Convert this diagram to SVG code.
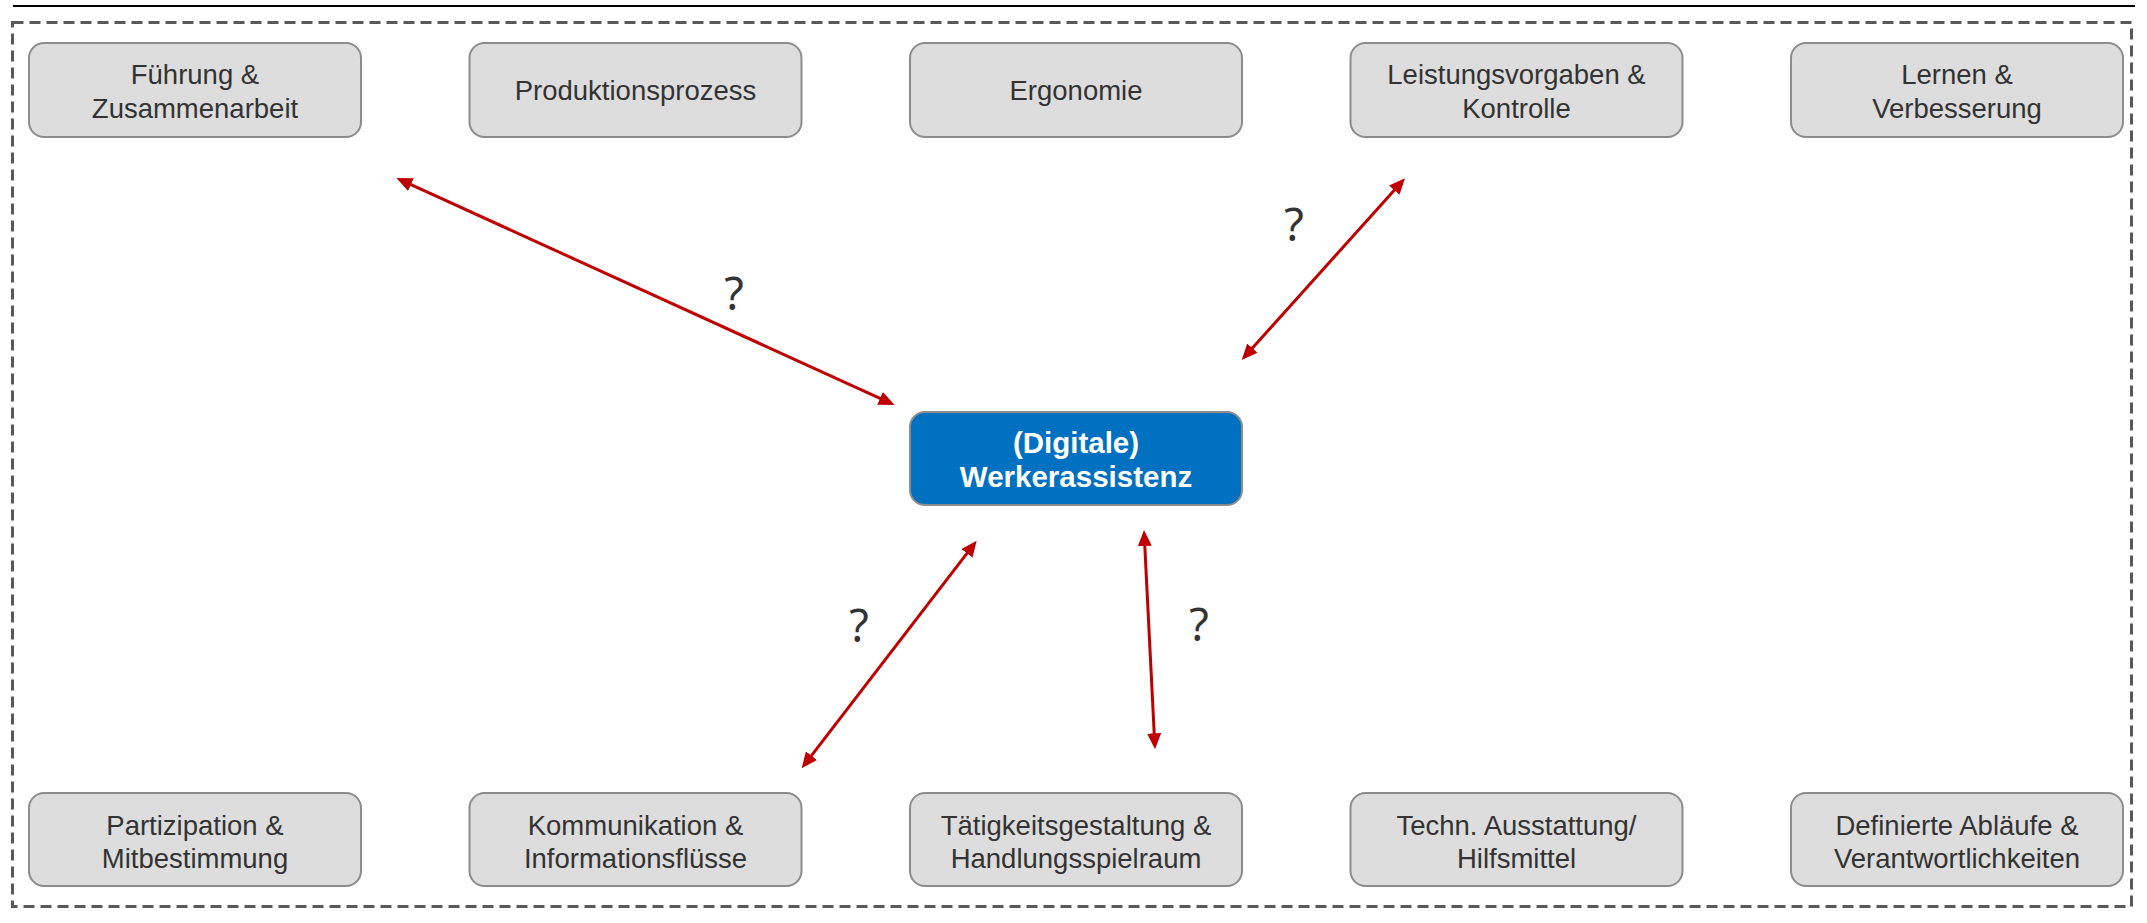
<svg xmlns="http://www.w3.org/2000/svg" width="2147" height="923" viewBox="0 0 2147 923">
  <style>
    .box { fill: #dddddd; stroke: #8c8c8c; stroke-width: 2; }
    .core { fill: #0070c0; stroke: #8c8c8c; stroke-width: 2; }
    .lbl { font-family: "Liberation Sans", Arial, sans-serif; font-size: 27.5px; fill: #333333; text-anchor: middle; }
    .corelbl { font-family: "Liberation Sans", Arial, sans-serif; font-size: 29.5px; font-weight: bold; fill: #ffffff; text-anchor: middle; }
    .q { font-family: "Noto Sans", "Open Sans", sans-serif; font-size: 45px; fill: #333333; text-anchor: middle; }
    .link { stroke: #c00000; stroke-width: 3; fill: none; marker-start: url(#head); marker-end: url(#head); }
  </style>
  <defs>
    <marker id="head" markerUnits="userSpaceOnUse" markerWidth="16" markerHeight="14" refX="6" refY="7" orient="auto-start-reverse">
      <path d="M0,0 L16,7 L0,14 z" fill="#c00000"/>
    </marker>
  </defs>

  <rect width="2147" height="923" fill="#ffffff"/>

  <!-- header rule -->
  <line x1="13" y1="6" x2="2135" y2="6" stroke="#000000" stroke-width="2"/>
  <!-- dashed frame -->
  <rect x="12.5" y="22.5" width="2119" height="884" fill="none" stroke="#595959" stroke-width="3" stroke-dasharray="11 6"/>

  <!-- top row -->
  <g id="fuehrung">
    <rect class="box" x="29" y="43" width="332" height="94" rx="15"/>
    <text class="lbl" x="195" y="84">Führung &amp;</text>
    <text class="lbl" x="195" y="118">Zusammenarbeit</text>
  </g>
  <g id="produktion">
    <rect class="box" x="469.5" y="43" width="332" height="94" rx="15"/>
    <text class="lbl" x="635.5" y="100">Produktionsprozess</text>
  </g>
  <g id="ergonomie">
    <rect class="box" x="910" y="43" width="332" height="94" rx="15"/>
    <text class="lbl" x="1076" y="100">Ergonomie</text>
  </g>
  <g id="leistung">
    <rect class="box" x="1350.5" y="43" width="332" height="94" rx="15"/>
    <text class="lbl" x="1516.5" y="84">Leistungsvorgaben &amp;</text>
    <text class="lbl" x="1516.5" y="118">Kontrolle</text>
  </g>
  <g id="lernen">
    <rect class="box" x="1791" y="43" width="332" height="94" rx="15"/>
    <text class="lbl" x="1957" y="84">Lernen &amp;</text>
    <text class="lbl" x="1957" y="118">Verbesserung</text>
  </g>

  <!-- centre -->
  <g id="werkerassistenz">
    <rect class="core" x="910" y="412" width="332" height="93" rx="15"/>
    <text class="corelbl" x="1076" y="453">(Digitale)</text>
    <text class="corelbl" x="1076" y="487">Werkerassistenz</text>
  </g>

  <!-- bottom row -->
  <g id="partizipation">
    <rect class="box" x="29" y="793" width="332" height="93" rx="15"/>
    <text class="lbl" x="195" y="835">Partizipation &amp;</text>
    <text class="lbl" x="195" y="868">Mitbestimmung</text>
  </g>
  <g id="kommunikation">
    <rect class="box" x="469.5" y="793" width="332" height="93" rx="15"/>
    <text class="lbl" x="635.5" y="835">Kommunikation &amp;</text>
    <text class="lbl" x="635.5" y="868">Informationsflüsse</text>
  </g>
  <g id="taetigkeit">
    <rect class="box" x="910" y="793" width="332" height="93" rx="15"/>
    <text class="lbl" x="1076" y="835">Tätigkeitsgestaltung &amp;</text>
    <text class="lbl" x="1076" y="868">Handlungsspielraum</text>
  </g>
  <g id="ausstattung">
    <rect class="box" x="1350.5" y="793" width="332" height="93" rx="15"/>
    <text class="lbl" x="1516.5" y="835">Techn. Ausstattung/</text>
    <text class="lbl" x="1516.5" y="868">Hilfsmittel</text>
  </g>
  <g id="ablaeufe">
    <rect class="box" x="1791" y="793" width="332" height="93" rx="15"/>
    <text class="lbl" x="1957" y="835">Definierte Abläufe &amp;</text>
    <text class="lbl" x="1957" y="868">Verantwortlichkeiten</text>
  </g>

  <!-- connectors -->
  <g id="connectors">
    <line class="link" x1="405.5" y1="182.1" x2="885.5" y2="400.9"/>
    <line class="link" x1="1398.3" y1="185.7" x2="1248.4" y2="352.6"/>
    <line class="link" x1="970.6" y1="548.6" x2="807.8" y2="760.4"/>
    <line class="link" x1="1144.5" y1="540" x2="1154.5" y2="739.3"/>
    <text class="q" x="734" y="310">?</text>
    <text class="q" x="1294" y="241">?</text>
    <text class="q" x="859" y="642">?</text>
    <text class="q" x="1199" y="641">?</text>
  </g>
</svg>
